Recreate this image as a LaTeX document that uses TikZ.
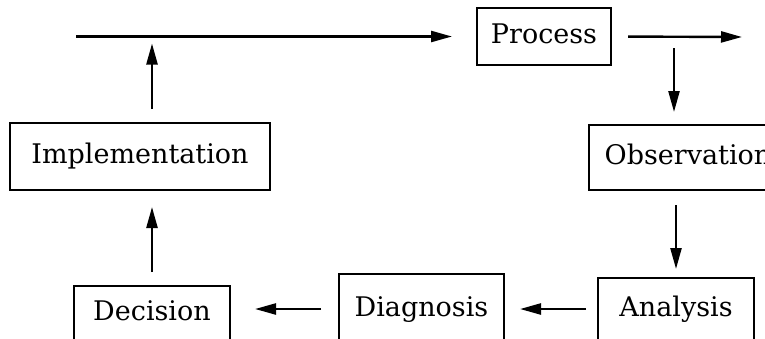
\documentclass[tikz,border=0pt]{standalone}
\usepackage{fontspec}
\setmainfont{DejaVu Serif}
\usetikzlibrary{arrows.meta}
\begin{document}
\begin{tikzpicture}[x=1pt, y=-1pt,
  box/.style={draw, line width=2pt, inner sep=0pt, text height=20pt, text depth=6pt,
              font=\fontsize{27}{33}\selectfont},
  arr/.style={line width=2.4pt, -{Triangle[length=21pt,width=11pt]}}]
  \useasboundingbox (0,0) rectangle (765,338);
  \clip (0,0) rectangle (765,338);

  % boxes of the cycle
  \node[box, minimum width=134pt, minimum height=57pt] (proc) at (544,36.5) {Process};
  \node[box, minimum width=198pt, minimum height=65pt] (obs)  at (688,157.5) {Observation};
  \node[box, minimum width=156pt, minimum height=62pt] (ana)  at (676,309) {Analysis};
  \node[box, minimum width=165pt, minimum height=70pt] (diag) at (421.5,309) {Diagnosis};
  \node[box, minimum width=156pt, minimum height=54pt] (dec)  at (152,313) {Decision};
  \node[box, minimum width=260pt, minimum height=67pt] (imp)  at (140,156.5) {Implementation};

  % free ends of the main line
  \coordinate (in)    at (76,36.5);
  \coordinate (out)   at (742,37);
  \coordinate (split) at (674,37);

  % connectors
  \draw[arr, shorten >=24pt] (in) -- (proc.west);
  \draw[arr, shorten <=16pt] (proc.east) -- (out);
  \draw[arr, shorten <=11pt, shorten >=12pt] (split) -- (split |- obs.north);
  \draw[arr, shorten <=14pt, shorten >=8pt] (ana.north |- obs.south) -- (ana.north);
  \draw[arr, shorten <=11pt, shorten >=15pt] (ana.west) -- (diag.east);
  \draw[arr, shorten <=17pt, shorten >=24pt] (diag.west) -- (dec.east |- diag.west);
  \draw[arr, shorten <=13pt, shorten >=16pt] (dec.north) -- (dec.north |- imp.south);
  \draw[arr, shorten <=13pt, shorten >=7pt] ([xshift=12pt]imp.north) -- ([xshift=12pt]imp.north |- in);
\end{tikzpicture}
\end{document}
